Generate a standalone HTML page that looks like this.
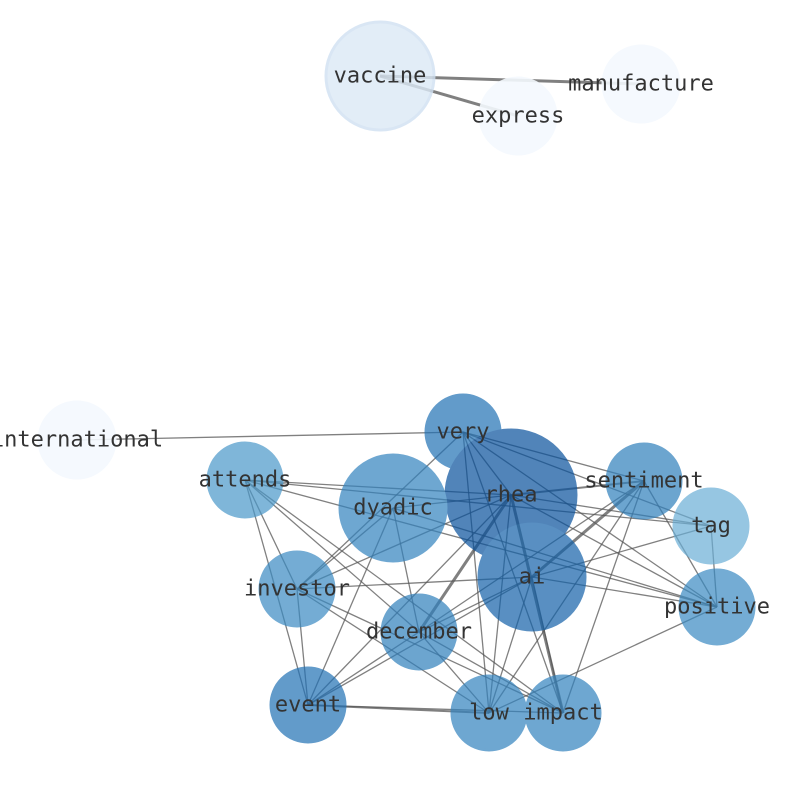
<!DOCTYPE html>
<html><head><meta charset="utf-8"><style>body{margin:0;background:#fff}</style></head><body>
<svg width="794" height="790" xmlns="http://www.w3.org/2000/svg" font-family="'DejaVu Sans Mono','Liberation Mono',monospace" font-size="22">
<g stroke="#555" stroke-opacity="0.75" stroke-width="1.3">
<line x1="380" y1="76" x2="641" y2="84" stroke-width="3"/>
<line x1="380" y1="76" x2="518" y2="116" stroke-width="3"/>
<line x1="77" y1="440" x2="463" y2="432"/>
<line x1="463" y1="432" x2="644" y2="481"/>
<line x1="463" y1="432" x2="711" y2="526"/>
<line x1="463" y1="432" x2="717" y2="607"/>
<line x1="463" y1="432" x2="489" y2="713"/>
<line x1="463" y1="432" x2="563" y2="713"/>
<line x1="463" y1="432" x2="297" y2="589"/>
<line x1="463" y1="432" x2="511" y2="495"/>
<line x1="511" y1="495" x2="245" y2="480"/>
<line x1="511" y1="495" x2="393" y2="508"/>
<line x1="511" y1="495" x2="644" y2="481" stroke-width="2"/>
<line x1="511" y1="495" x2="297" y2="589"/>
<line x1="511" y1="495" x2="419" y2="632" stroke-width="3"/>
<line x1="511" y1="495" x2="308" y2="705"/>
<line x1="511" y1="495" x2="489" y2="713"/>
<line x1="511" y1="495" x2="563" y2="713" stroke-width="3"/>
<line x1="511" y1="495" x2="717" y2="607"/>
<line x1="511" y1="495" x2="711" y2="526"/>
<line x1="532" y1="577" x2="297" y2="589"/>
<line x1="532" y1="577" x2="644" y2="481" stroke-width="3"/>
<line x1="532" y1="577" x2="419" y2="632"/>
<line x1="532" y1="577" x2="308" y2="705"/>
<line x1="532" y1="577" x2="489" y2="713"/>
<line x1="532" y1="577" x2="711" y2="526"/>
<line x1="532" y1="577" x2="717" y2="607"/>
<line x1="532" y1="577" x2="563" y2="713"/>
<line x1="245" y1="480" x2="711" y2="526"/>
<line x1="245" y1="480" x2="717" y2="607"/>
<line x1="245" y1="480" x2="297" y2="589"/>
<line x1="245" y1="480" x2="308" y2="705"/>
<line x1="245" y1="480" x2="419" y2="632"/>
<line x1="245" y1="480" x2="563" y2="713"/>
<line x1="393" y1="508" x2="297" y2="589"/>
<line x1="393" y1="508" x2="308" y2="705"/>
<line x1="393" y1="508" x2="419" y2="632"/>
<line x1="393" y1="508" x2="717" y2="607"/>
<line x1="644" y1="481" x2="489" y2="713"/>
<line x1="644" y1="481" x2="563" y2="713"/>
<line x1="644" y1="481" x2="717" y2="607"/>
<line x1="644" y1="481" x2="419" y2="632"/>
<line x1="297" y1="589" x2="489" y2="713"/>
<line x1="297" y1="589" x2="563" y2="713"/>
<line x1="297" y1="589" x2="308" y2="705"/>
<line x1="419" y1="632" x2="489" y2="713"/>
<line x1="419" y1="632" x2="563" y2="713"/>
<line x1="419" y1="632" x2="308" y2="705"/>
<line x1="308" y1="705" x2="489" y2="713" stroke-width="2"/>
<line x1="308" y1="705" x2="563" y2="713"/>
<line x1="717" y1="607" x2="711" y2="526"/>
<line x1="717" y1="607" x2="489" y2="713"/>
</g>
<g stroke-width="3">
<circle cx="380" cy="76" r="54" fill="#dce9f6" stroke="#d0e1f2" opacity="0.8"/>
<circle cx="518" cy="116" r="38" fill="#f4f9fe" stroke="#f4f9fe" opacity="0.9"/>
<circle cx="641" cy="84" r="38" fill="#f4f9fe" stroke="#f4f9fe" opacity="0.9"/>
<circle cx="77" cy="440" r="38" fill="#f4f9fe" stroke="#f4f9fe" opacity="0.9"/>
<g opacity="0.7">
<circle cx="463" cy="432" r="37" fill="#2171b5" stroke="#2171b5"/>
<circle cx="511" cy="495" r="65" fill="#08519c" stroke="#08519c"/>
<circle cx="245" cy="480" r="37" fill="#4a98c9" stroke="#4a98c9"/>
<circle cx="393" cy="508" r="53" fill="#3282be" stroke="#3282be"/>
<circle cx="644" cy="481" r="37" fill="#2f7fbc" stroke="#2f7fbc"/>
<circle cx="711" cy="526" r="37" fill="#6aaed6" stroke="#6aaed6"/>
<circle cx="532" cy="577" r="53" fill="#1361a9" stroke="#1361a9"/>
<circle cx="297" cy="589" r="37" fill="#3a8ac2" stroke="#3a8ac2"/>
<circle cx="717" cy="607" r="37" fill="#3a8ac2" stroke="#3a8ac2"/>
<circle cx="419" cy="632" r="37" fill="#2f7fbc" stroke="#2f7fbc"/>
<circle cx="308" cy="705" r="37" fill="#2171b5" stroke="#2171b5"/>
<circle cx="489" cy="713" r="37" fill="#3282be" stroke="#3282be"/>
<circle cx="563" cy="713" r="37" fill="#3282be" stroke="#3282be"/>
</g></g>
<g fill="#333" text-anchor="middle" dominant-baseline="central">
<text x="380" y="76">vaccine</text><text x="518" y="116">express</text><text x="641" y="84">manufacture</text>
<text x="77" y="440">international</text><text x="463" y="432">very</text><text x="511" y="495">rhea</text>
<text x="245" y="480">attends</text><text x="393" y="508">dyadic</text><text x="644" y="481">sentiment</text>
<text x="711" y="526">tag</text><text x="532" y="577">ai</text><text x="297" y="589">investor</text>
<text x="717" y="607">positive</text><text x="419" y="632">december</text><text x="308" y="705">event</text>
<text x="489" y="713">low</text><text x="563" y="713">impact</text>
</g>
</svg>
</body></html>
